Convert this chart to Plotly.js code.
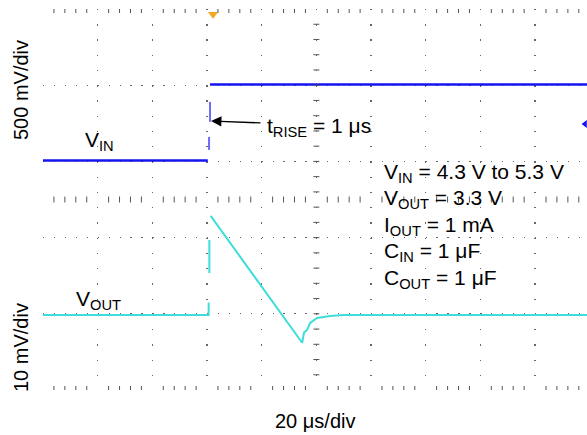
<!DOCTYPE html>
<html>
<head>
<meta charset="utf-8">
<script src="https://cdn.plot.ly/plotly-3.0.1.min.js"></script>
<style>html,body{margin:0;padding:0;background:#fff;}#chart{width:587px;height:435px;}</style>
</head>
<body>
<div id="chart"></div>
<script>
// ---- data (time in µs, VIN in V, VOUT deviation in mV) ----
const vinLevelT = [0, 60.27, null, 61.1, 199];
const vinLevelV = [4.3, 4.3, null, 5.3, 5.3];
const vinEdgeT = [60.74, 60.74, null, 61.1, 61.1];
const vinEdgeV = [4.44, 4.61, null, 4.81, 5.07];

const voutT = [0, 60.5, 60.6, 60.6, null, 60.85, 60.85, null, 61.35, 94.8, 95.5, 96.6, 97.7, 100.3, 105.0, 110.0, 199];
const voutV = [0, 0, 0, 3.3, null, 11.0, 19.7, null, 26.0, -7.3, -4.6, -3.9, -2.1, -0.8, -0.26, 0, 0];

const SUB = s => '<sub>' + s + '</sub>';
const voltsPerDivLabel = "500 mV/div";
const mvPerDivLabel = "10 mV/div";
const timeLabel = "20 μs/div";
const vinLabel = "V" + SUB("IN");
const voutLabel = "V" + SUB("OUT");
const riseLabel = "t" + SUB("RISE") + " = 1 μs";
const infoLines = [
  "V" + SUB("IN") + " = 4.3 V to 5.3 V",
  "V" + SUB("OUT") + " = 3.3 V",
  "I" + SUB("OUT") + " = 1 mA",
  "C" + SUB("IN") + " = 1 μF",
  "C" + SUB("OUT") + " = 1 μF"
];

// ---- layout geometry ----
const W = 587, H = 435;
const L = 43, T = 9, B = 45;
const PW = W - L, PH = H - T - B;
const xMax = 199.0;          // µs visible (10 div = 200 µs, slightly cropped)
const nDivY = 5;
const px = x => (x - L) / PW;
const py = y => (H - B - y) / PH;

const FONT = "Liberation Sans, Arial, Helvetica, sans-serif";
const fs = 20, fsInfo = 21;

// graticule ticks
const shapes = [];
const tickColor = "#555";
for (let d = 0; d < 10; d++) {
  for (let k = 1; k <= 4; k++) {
    const t = d * 20 + k * 4;
    if (t > xMax) continue;
    [[nDivY, -4, 0], [0, 0, 4], [2.5, -3, 3]].forEach(([ya, a, b]) => {
      shapes.push({type: "line", xref: "x", yref: "y", ysizemode: "pixel", yanchor: ya,
        x0: t, x1: t, y0: a, y1: b, line: {color: tickColor, width: 1}});
    });
  }
}
for (let k = 1; k < 25; k++) {
  const yv = k * 0.2;
  shapes.push({type: "line", xref: "x", yref: "y", xsizemode: "pixel", xanchor: 100,
    x0: -3, x1: 3, y0: yv, y1: yv, line: {color: tickColor, width: 1}});
}

const traces = [
  {x: vinLevelT, y: vinLevelV, yaxis: "y2", mode: "lines", line: {color: "#1414f0", width: 2.5}, connectgaps: false, hoverinfo: "skip"},
  {x: vinEdgeT, y: vinEdgeV, yaxis: "y2", mode: "lines", line: {color: "#6a6aff", width: 2}, connectgaps: false, hoverinfo: "skip"},
  {x: voutT, y: voutV, yaxis: "y3", mode: "lines", line: {color: "#40dcdc", width: 2}, connectgaps: false, hoverinfo: "skip"},
  // trigger marker and channel reference marker
  {x: [62.2], y: [4.93], mode: "markers", cliponaxis: false, marker: {symbol: "triangle-down", color: "#f5a623", size: 9}, hoverinfo: "skip"},
  {x: [198.3], y: [3.49], mode: "markers", cliponaxis: false, marker: {symbol: "triangle-left", color: "#1414f0", size: 7}, hoverinfo: "skip"}
];

const ann = [];
const txt = (text, x, y, opts) => Object.assign({text, xref: "paper", yref: "paper", x: px(x), y: py(y),
  showarrow: false, font: {family: FONT, size: fs, color: "#000"}, xanchor: "left", yanchor: "middle"}, opts || {});
const big = {family: FONT, size: fsInfo, color: "#000"};
ann.push(txt(voltsPerDivLabel, 21, 90, {textangle: -90, xanchor: "center"}));
ann.push(txt(mvPerDivLabel, 21, 348, {textangle: -90, xanchor: "center"}));
ann.push(txt(timeLabel, 315, 421, {xanchor: "center"}));
ann.push(txt(vinLabel, 83, 141, {font: big}));
ann.push(txt(voutLabel, 74, 300, {font: big}));
ann.push(txt(riseLabel, 265, 127, {font: big}));
const infoY = [173, 199, 226, 252, 279];
infoLines.forEach((s, i) => ann.push(txt(s, 382, infoY[i], {font: big})));
// arrow
ann.push({text: "", xref: "paper", yref: "paper", x: px(211), y: py(121), ax: 51, ay: 2,
  axref: "pixel", ayref: "pixel", showarrow: true, arrowhead: 2, arrowsize: 1.6, arrowwidth: 1.3, arrowcolor: "#000", standoff: 0});

const layout = {
  width: W, height: H,
  margin: {l: L, r: 0, t: T, b: B, pad: 0},
  paper_bgcolor: "#fff", plot_bgcolor: "#fff",
  showlegend: false,
  xaxis: {range: [0, xMax], dtick: 20, tick0: 0, showgrid: true, gridcolor: "#666", gridwidth: 1.3,
    griddash: "1.3px,13.94px", zeroline: false, showticklabels: false, ticks: "", showline: false, fixedrange: true},
  yaxis: {range: [0, nDivY], dtick: 1, tick0: 0, showgrid: true, gridcolor: "#666", gridwidth: 1.3,
    griddash: "1.3px,9.63px", zeroline: false, showticklabels: false, ticks: "", showline: false, fixedrange: true},
  yaxis2: {overlaying: "y", range: [1.2895, 6.2895], showgrid: false, zeroline: false, showticklabels: false, ticks: "", visible: false},
  yaxis3: {overlaying: "y", range: [-19.69, 80.31], showgrid: false, zeroline: false, showticklabels: false, ticks: "", visible: false},
  shapes: shapes,
  annotations: ann
};

Plotly.newPlot("chart", traces, layout, {staticPlot: true, displayModeBar: false});
</script>
</body>
</html>
